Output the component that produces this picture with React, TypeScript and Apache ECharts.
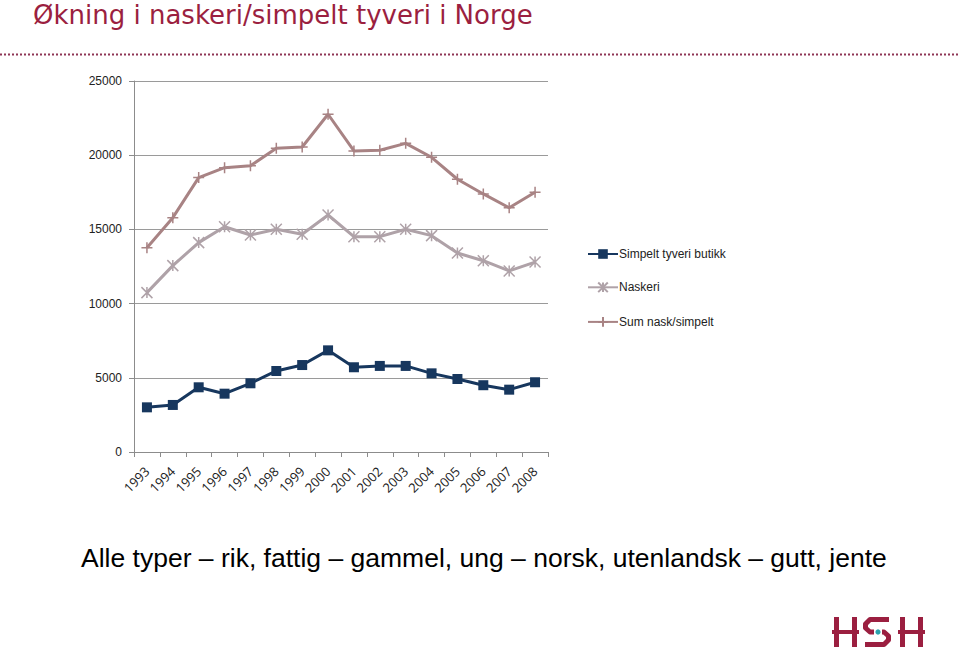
import React, { useEffect, useRef } from "react";
import * as echarts from "echarts";

const years = ["1993","1994","1995","1996","1997","1998","1999","2000","2001","2002","2003","2004","2005","2006","2007","2008"];
const simpelt = [3010, 3170, 4360, 3930, 4630, 5460, 5860, 6850, 5710, 5800, 5800, 5300, 4920, 4500, 4200, 4700];
const naskeri = [10740, 12560, 14110, 15180, 14620, 15010, 14670, 15970, 14510, 14510, 15010, 14580, 13410, 12890, 12200, 12800];
const sum = [13770, 15790, 18490, 19160, 19290, 20470, 20550, 22760, 20290, 20330, 20800, 19860, 18380, 17390, 16460, 17500];
const yTicks = [0, 5000, 10000, 15000, 20000, 25000];

const NAVY = "#17375E";
const NASK = "#AFA2A8";
const SUM = "#A88384";
const CRIMSON = "#9B1F40";

export default function App() {
  const ref = useRef<HTMLDivElement>(null);
  useEffect(() => {
    if (!ref.current) return;
    const chart = echarts.init(ref.current, null, { renderer: "svg" });
    const font = "'Liberation Sans', Arial, sans-serif";
    chart.setOption({
      animation: false,
      backgroundColor: "#ffffff",
      textStyle: { fontFamily: font },
      grid: { left: 134, right: 412, top: 81, bottom: 202 },
      legend: {
        orient: "vertical",
        left: 582,
        top: 243,
        itemGap: 20,
        itemWidth: 30,
        itemHeight: 12,
        textStyle: { fontSize: 12, color: "#222", fontFamily: font, padding: [0, 0, 0, -4] },
        data: ["Simpelt tyveri butikk", "Naskeri", "Sum nask/simpelt"],
      },
      xAxis: {
        type: "category",
        data: years,
        boundaryGap: true,
        axisLine: { lineStyle: { color: "#8c8c8c", width: 1 } },
        axisTick: { show: true, length: 5, lineStyle: { color: "#8c8c8c" } },
        axisLabel: { rotate: 45, fontSize: 13, color: "#222", fontFamily: "'Open Sans', sans-serif", margin: 17, interval: 0 },
      },
      yAxis: {
        type: "value",
        min: 0,
        max: 25000,
        interval: 5000,
        axisLine: { show: true, lineStyle: { color: "#8c8c8c", width: 1 } },
        axisTick: { show: true, length: 5, lineStyle: { color: "#8c8c8c" } },
        splitLine: { lineStyle: { color: "#9a9a9a", width: 1 } },
        axisLabel: {
          fontSize: 12,
          color: "#222",
          margin: 12,
          formatter: (v: number) => (yTicks.includes(v) ? String(v) : ""),
        },
      },
      series: [
        {
          name: "Simpelt tyveri butikk",
          type: "line",
          data: simpelt,
          symbol: "rect",
          symbolSize: 10,
          lineStyle: { color: NAVY, width: 3 },
          itemStyle: { color: NAVY },
        },
        {
          name: "Naskeri",
          type: "line",
          data: naskeri,
          symbol: "path://M0 0 L10 10 M10 0 L0 10 M5 0 L5 10",
          symbolSize: 11,
          lineStyle: { color: NASK, width: 3 },
          itemStyle: { color: "none", borderColor: NASK, borderWidth: 1.5 },
        },
        {
          name: "Sum nask/simpelt",
          type: "line",
          data: sum,
          symbol: "path://M5 0 L5 10 M0 5 L10 5",
          symbolSize: 11,
          lineStyle: { color: SUM, width: 3 },
          itemStyle: { color: "none", borderColor: SUM, borderWidth: 1.5 },
        },
      ],
      graphic: [
        {
          type: "text",
          left: 33,
          top: 1,
          style: { text: "Økning i naskeri/simpelt tyveri i Norge", fontSize: 26, lineHeight: 28, fill: CRIMSON, fontFamily: "'DejaVu Sans', sans-serif" },
        },
        {
          type: "line",
          shape: { x1: 0, y1: 54.5, x2: 960, y2: 54.5 },
          style: { stroke: "#8E3555", lineWidth: 2, lineDash: [2, 2] },
        },
        {
          type: "text",
          left: 81,
          top: 544,
          style: { text: "Alle typer – rik, fattig – gammel, ung – norsk, utenlandsk – gutt, jente", fontSize: 26.5, fill: "#000", fontFamily: font },
        },
        {
          type: "group",
          left: 832,
          top: 617,
          children: [
            { type: "rect", shape: { x: 0, y: 0, width: 5, height: 30 }, style: { fill: CRIMSON } },
            { type: "rect", shape: { x: 18, y: 0, width: 5, height: 30 }, style: { fill: CRIMSON } },
            { type: "rect", shape: { x: -2, y: 13, width: 27, height: 4 }, style: { fill: CRIMSON } },
            {
              type: "polyline",
              shape: { points: [[55, 2.5], [36, 2.5], [31.5, 7], [31.5, 11], [36, 15], [40, 15]] },
              style: { stroke: CRIMSON, lineWidth: 5, fill: "none", lineJoin: "round" },
            },
            {
              type: "polyline",
              shape: { points: [[48, 15], [50, 15], [54.5, 19], [54.5, 23], [50, 27.5], [31, 27.5]] },
              style: { stroke: CRIMSON, lineWidth: 5, fill: "none", lineJoin: "round" },
            },
            { type: "circle", shape: { cx: 44, cy: 15, r: 2.6 }, style: { fill: "#2BA3AE" } },
            { type: "rect", shape: { x: 66, y: 0, width: 5, height: 30 }, style: { fill: CRIMSON } },
            { type: "rect", shape: { x: 84, y: 0, width: 5, height: 30 }, style: { fill: CRIMSON } },
            { type: "rect", shape: { x: 64, y: 13, width: 27, height: 4 }, style: { fill: CRIMSON } },
          ],
        },
      ],
    });
    return () => chart.dispose();
  }, []);
  return <div ref={ref} style={{ position: "fixed", left: 0, top: 0, width: 960, height: 654 }} />;
}
